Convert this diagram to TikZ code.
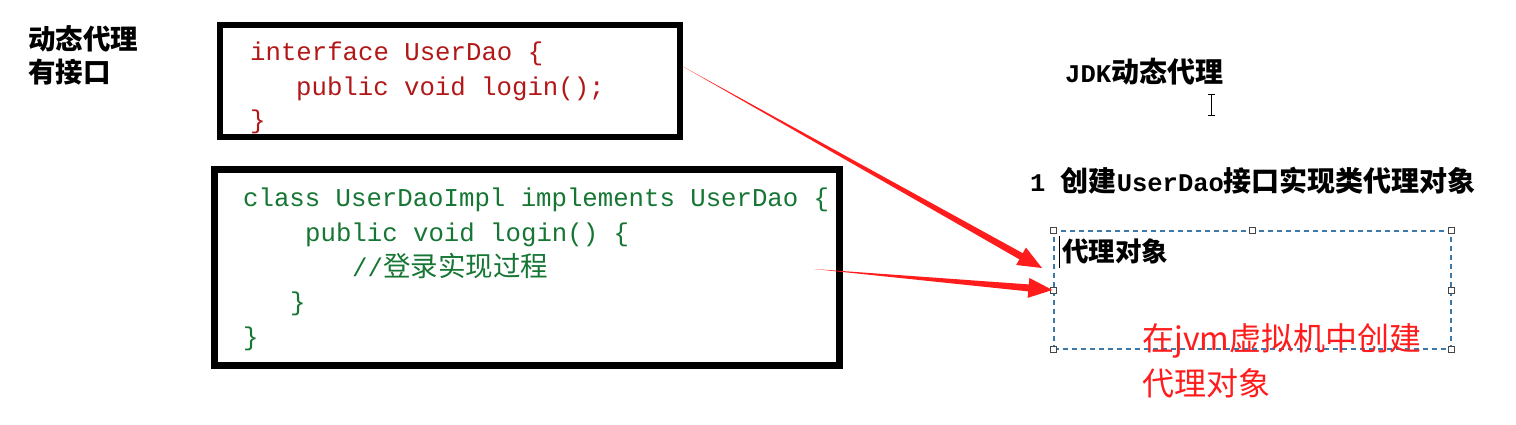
\documentclass[tikz,border=0pt]{standalone}
\usepackage{fontspec}
\setmainfont{Liberation Serif}
\newfontfamily\monof{Liberation Mono}
\newfontfamily\cjk{Noto Sans CJK SC}
\usetikzlibrary{calc}
\definecolor{codered}{RGB}{178,24,24}
\definecolor{codegreen}{RGB}{22,118,52}
\definecolor{dashblue}{RGB}{60,120,168}
\definecolor{arrowred}{RGB}{255,28,28}
\definecolor{handlegray}{RGB}{70,70,70}
\tikzset{
  blackbox/.style={draw=black, rectangle, inner sep=0pt},
  codeline/.style={anchor=west, inner sep=0pt, text height=18pt, text depth=2pt,
    font=\monof\fontsize{25.7}{30}\selectfont},
  redcode/.style={codeline, text=codered},
  greencode/.style={codeline, text=codegreen},
  heading/.style={anchor=west, inner sep=0pt, text height=20pt, text depth=2pt, text=black},
  redlabel/.style={anchor=west, inner sep=0pt, text height=26pt, text depth=2pt, text=arrowred,
    font=\cjk\fontsize{32}{38}\selectfont},
  handle/.style={draw=handlegray, fill=white, line width=0.8pt, rectangle, inner sep=0pt, minimum size=6pt},
  proxybox/.style={draw=dashblue, line width=1.2pt, dash pattern=on 5pt off 4pt, rectangle, inner sep=0pt},
}
\newcommand\taparrow[3]{%
  \coordinate (#3h) at ($(#2)!24pt!(#1)$);
  \fill[arrowred] (#1) -- ($(#3h)!3.5pt!90:(#1)$) -- ($(#3h)!10pt!90:(#1)$) -- (#2)
    -- ($(#3h)!10pt!-90:(#1)$) -- ($(#3h)!3.5pt!-90:(#1)$) -- cycle;
}
\newcommand\hcjk[1]{{\cjk\bfseries\fontsize{28}{30}\selectfont #1}}
\newcommand\hasc[1]{{\monof\bfseries\fontsize{25.5}{30}\selectfont #1}}
\begin{document}
\begin{tikzpicture}[x=1pt,y=-1pt]
\useasboundingbox (0,0) rectangle (1516,424);
\fill[white] (0,0) rectangle (1516,424);

% left label
\node[heading, font=\cjk\bfseries\fontsize{27.5}{30}\selectfont] (lab1) at (28,40) {动态代理};
\node[heading, font=\cjk\bfseries\fontsize{27.5}{30}\selectfont] (lab2) at (28,73) {有接口};

% interface box
\node[blackbox, line width=6pt, minimum width=460pt, minimum height=112pt] (box1) at (450,81) {};
\node[redcode] (i1) at (250,52) {interface UserDao \{};
\node[redcode] (i2) at (296,87) {public void login();};
\node[redcode] (i3) at (250,120) {\}};

% impl box
\node[blackbox, line width=7pt, minimum width=625pt, minimum height=196pt] (box2) at (527,267.5) {};
\node[greencode] (c1) at (243,198) {class UserDaoImpl implements UserDao \{};
\node[greencode] (c2) at (305,233) {public void login() \{};
\node[greencode] (c3) at (352,268) {//{\cjk\fontsize{27.5}{30}\selectfont 登录实现过程}};
\node[greencode] (c4) at (290,302) {\}};
\node[greencode] (c5) at (243,337) {\}};

% right side headings
\node[heading] (jdk) at (1065,73) {\hasc{JDK}\hcjk{动态代理}};
\node[heading] (step1) at (1030,182) {\hasc{1 }\hcjk{创建}\hasc{UserDao}\hcjk{接口实现类代理对象}};

% I-beam cursor
\draw[black, line width=1pt] (1211,94) -- (1211,115)
  (1207.5,94) -- (1214.5,94) (1207.5,115) -- (1214.5,115);

% proxy box
\node[proxybox, minimum width=397pt, minimum height=118pt] (proxy) at (1252.5,290) {};
\foreach \a in {north west,north,north east,west,east,south west,south east}
  \node[handle] at (proxy.\a) {};
\node[heading, font=\cjk\bfseries\fontsize{26.5}{30}\selectfont] (ptext) at (1062,252) {代理对象};
\draw[black, line width=1pt] (1059,236) -- (1059,268);

\node[redlabel] (r1) at (1142,338) {在jvm虚拟机中创建};
\node[redlabel] (r2) at (1142,383) {代理对象};

% arrows
\coordinate (a1s) at (682,66);
\coordinate (a1e) at (1042,268);
\coordinate (a2s) at (814,269);
\coordinate (a2e) at ($(proxy.west)+(-1,0)$);
\taparrow{a1s}{a1e}{ar1}
\taparrow{a2s}{a2e}{ar2}
\end{tikzpicture}
\end{document}
